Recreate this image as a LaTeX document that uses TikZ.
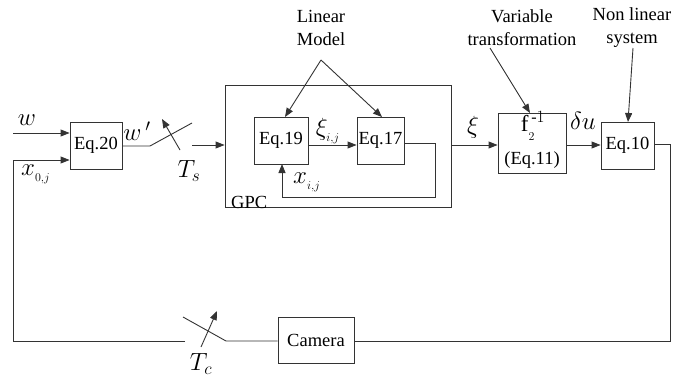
\documentclass[tikz,border=0pt]{standalone}
\usepackage{amsmath}
\usepackage{fontspec}
\setmainfont{Liberation Serif}
\usepackage{tikz}
\usetikzlibrary{positioning,arrows.meta,calc}

\begin{document}
\begin{tikzpicture}[
  x=1pt, y=-1pt,
  >={Triangle[length=9pt,width=7pt]},
  font=\rmfamily\fontsize{18.5}{23}\selectfont,
  every node/.style={align=center},
  block/.style={rectangle, draw=black!80, line width=0.9pt, inner sep=0pt},
  wire/.style={draw=black!80, line width=0.9pt},
  lbl/.style={inner sep=0pt},
  mlbl/.style={inner sep=0pt, font=\rmfamily\fontsize{25}{27}\selectfont},
]
\useasboundingbox (0,0) rectangle (688,378);

\node[block, minimum width=52pt, minimum height=47pt] (eqtwenty) at (96,145.5) {Eq.20};
\node[block, minimum width=226pt, minimum height=122pt] (gpc) at (338,146) {};
\node[lbl, anchor=south west] (gpclbl) at (231,209) {GPC};
\node[block, minimum width=54pt, minimum height=47pt] (eqnineteen) at (281,140.5) {Eq.19};
\node[block, minimum width=47pt, minimum height=47pt] (eqseventeen) at (380.5,140.5) {Eq.17};
\node[block, minimum width=68pt, minimum height=60pt] (finv) at (532,143) {};
\node[lbl, font=\rmfamily\fontsize{23}{25}\selectfont] (finvtop) at (533,126) {f$_{_2}^{\,\text{-}1}$};
\node[lbl] (finvbot) at (532,160) {(Eq.11)};
\node[block, minimum width=53pt, minimum height=47pt] (eqten) at (627.5,145.5) {Eq.10};
\node[block, minimum width=76pt, minimum height=46pt] (camera) at (316,340) {Camera};

\node[lbl] (linmodel) at (321,28) {Linear\\Model};
\node[lbl] (vartrans) at (522,28) {Variable\\transformation};
\node[lbl] (nonlin) at (632,28) {Non linear\\system};

\coordinate (win) at (13,133);
\coordinate (lmapex) at (321,60);
\coordinate (tsopen) at (150,146);
\coordinate (tsend) at (192,123);
\coordinate (tcopen) at (226,341);
\coordinate (tcend) at (183,317);
\coordinate (tcin) at (185,341);
\coordinate (corner) at (13,341);

\draw[wire,->] (win) -- (eqtwenty.west |- win);
\node[mlbl] (wlbl) at (27,120) {$w$};
\draw[wire,->] (tcin) -- (corner) -- (corner |- 0,160) -- (eqtwenty.west |- 0,160);
\node[mlbl] (xzero) at (36,174) {$x_{_{0,j}}$};

\draw[wire] (eqtwenty.east |- tsopen) -- (tsopen) -- (tsend);
\draw[wire,->] (180,150) -- (162,119);
\node[mlbl] (wprime) at (137,131) {$w\,'$};
\node[mlbl] (ts) at (189,171) {$T_s$};
\draw[wire,->] (192,145) -- (gpc.west |- 0,145);

\draw[wire,->] (eqnineteen.east |- 0,145) -- (eqseventeen.west |- 0,145);
\node[mlbl] (xiij) at (328,131) {$\xi_{_{i,j}}$};
\draw[wire,->] (eqseventeen.east |- 0,143) -- (435,143) -- (435,197) -- (282,197) -- (282,164);
\node[mlbl] (xij) at (307,182) {$x_{_{i,j}}$};

\draw[wire,->] (lmapex) -- (285,117);
\draw[wire,->] (lmapex) -- (382,117);

\draw[wire,->] (gpc.east |- 0,145) -- (finv.west |- 0,145);
\node[mlbl] (xi) at (473,127) {$\xi$};
\draw[wire,->] (finv.east |- 0,145) -- (eqten.west |- 0,145);
\node[mlbl] (du) at (583,121) {$\delta u$};
\draw[wire,->] (490,48) -- (530,113);
\draw[wire,->] (633,48) -- (628,122);

\draw[wire] (eqten.east |- 0,144) -- (670,144) -- (670,341) -- (camera.east |- 0,341);
\draw[wire] (camera.west |- 0,341) -- (tcopen) -- (tcend);
\draw[wire,->] (201,347) -- (217,311);
\node[mlbl] (tc) at (201,364) {$T_c$};
\end{tikzpicture}
\end{document}
